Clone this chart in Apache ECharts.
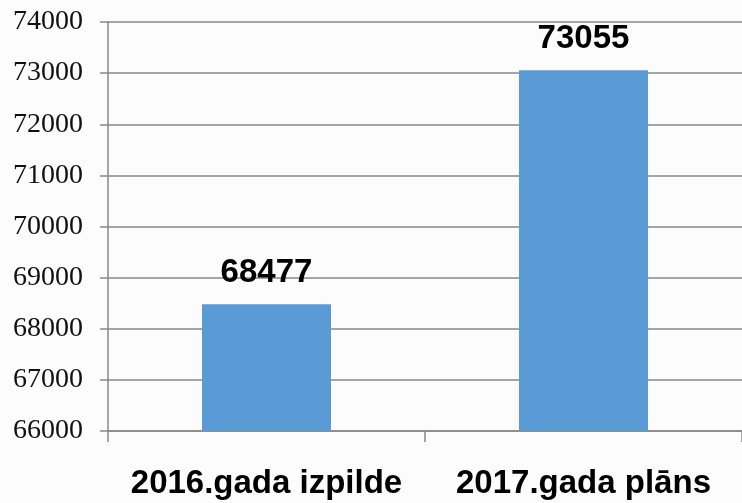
<!DOCTYPE html>
<html>
<head>
<meta charset="utf-8">
<script src="https://cdn.jsdelivr.net/npm/echarts@6/dist/echarts.min.js"></script>
<style>
html,body{margin:0;padding:0;background:#fcfcfc;}
#chart{width:742px;height:503px;}
</style>
</head>
<body>
<div id="chart"></div>
<script>
var categories = ['2016.gada izpilde', '2017.gada plāns'];
var values = [68477, 73055];
var yMin = 66000, yMax = 74000, yStep = 1000;

var boldFont = '"Liberation Sans", Arial, sans-serif';

var myChart = echarts.init(document.getElementById('chart'));
var option = {
	backgroundColor: '#fcfcfc',
	animation: false,
	grid: {left: 108, top: 22, bottom: 72, width: 638},
	xAxis: {
		type: 'category',
		data: categories,
		axisLine: {lineStyle: {color: '#888', width: 1.5}},
		axisTick: {show: true, length: 11, lineStyle: {color: '#888', width: 1.5}},
		axisLabel: {
			interval: 0,
			hideOverlap: false,
			margin: 36,
			color: '#000',
			fontFamily: boldFont,
			fontWeight: 'bold',
			fontSize: 33
		}
	},
	yAxis: {
		type: 'value',
		min: yMin,
		max: yMax,
		interval: yStep,
		axisLine: {show: true, lineStyle: {color: '#888', width: 1.5}},
		axisTick: {show: true, length: 8, lineStyle: {color: '#888', width: 1.5}},
		splitLine: {lineStyle: {color: '#888', width: 1.5}},
		axisLabel: {
			margin: 25,
			color: '#111',
			fontFamily: '"Liberation Serif", "Times New Roman", serif',
			fontSize: 28,
			formatter: function(v){ return String(v); }
		}
	},
	series: [{
		type: 'bar',
		data: values,
		barWidth: 129,
		itemStyle: {color: '#5b9bd5'},
		label: {
			show: true,
			position: 'top',
			distance: 15,
			color: '#000',
			fontFamily: boldFont,
			fontWeight: 'bold',
			fontSize: 33
		}
	}]
};
myChart.setOption(option);
</script>
</body>
</html>
